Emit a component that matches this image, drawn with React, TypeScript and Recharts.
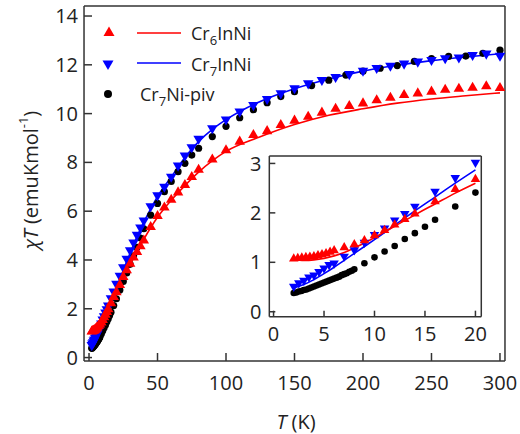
import React from 'react';
import { ComposedChart, Scatter, Line, XAxis, YAxis, Legend } from 'recharts';

const FONT = '"Open Sans", "DejaVu Sans", sans-serif';
const INK = '#333';
const RED = '#ff0000';
const BLUE = '#0000ff';
const THIN = 0.01; // axes need a non-zero box to render

// Cr6InNi, measured (up triangles)
const cr6T = [2, 2.4, 2.8, 3.2, 3.6, 4, 4.4, 4.8, 5.2, 5.6, 6, 7, 8, 9, 10, 11, 12, 13, 14, 16, 18, 20,
  22.5, 25, 27.5, 30, 32.5, 35, 37.5, 40, 45, 50, 55, 60, 65, 70, 75, 80, 90, 100, 110, 120, 130, 140,
  150, 160, 170, 180, 190, 200, 210, 220, 230, 240, 250, 260, 270, 280, 290, 300];
const cr6Chi = [1.07, 1.08, 1.09, 1.1, 1.11, 1.12, 1.14, 1.16, 1.18, 1.21, 1.24, 1.3, 1.36, 1.44, 1.54, 1.65, 1.76, 1.87, 1.98, 2.23, 2.48, 2.68,
  2.98, 3.3, 3.58, 3.85, 4.1, 4.33, 4.56, 4.8, 5.35, 5.8, 6.15, 6.47, 6.77, 7.07, 7.4, 7.7, 8.12, 8.5, 8.85, 9.12, 9.28, 9.53,
  9.71, 9.87, 10.04, 10.2, 10.31, 10.42, 10.55, 10.65, 10.76, 10.83, 10.9, 10.98, 11.02, 11.06, 11.12, 11.05];

// Cr7InNi, measured (down triangles)
const cr7T = [2, 2.5, 3, 3.5, 4, 4.5, 5, 5.5, 6, 7, 8, 9, 10, 11, 12, 13, 14, 16, 18, 20,
  22.5, 25, 27.5, 30, 32.5, 35, 37.5, 40, 45, 50, 55, 60, 65, 70, 75, 80, 90, 100, 110, 120, 130, 140,
  150, 160, 170, 180, 190, 200, 210, 220, 230, 240, 250, 260, 270, 280, 290, 300];
const cr7Chi = [0.51, 0.58, 0.63, 0.7, 0.74, 0.81, 0.88, 0.95, 0.98, 1.12, 1.25, 1.4, 1.56, 1.69, 1.85, 1.98, 2.13, 2.43, 2.71, 3.02,
  3.35, 3.7, 4.05, 4.4, 4.72, 5.03, 5.33, 5.62, 6.2, 6.65, 7.0, 7.41, 7.87, 8.28, 8.62, 8.97, 9.4, 9.76, 10.08, 10.35, 10.6, 10.83,
  11.04, 11.24, 11.38, 11.5, 11.62, 11.76, 11.87, 11.96, 12.05, 12.13, 12.2, 12.27, 12.3, 12.4, 12.46, 12.37];

// Cr7Ni-piv, measured (dots)
const pivT = [2, 2.25, 2.5, 2.75, 3, 3.25, 3.5, 3.75, 4, 4.25, 4.5, 4.75, 5, 5.25, 5.5, 5.75, 6, 6.25, 6.5, 6.75, 7, 7.25, 7.5, 7.75, 8,
  9, 10, 11, 12, 13, 14, 15, 16, 18, 20, 22.5, 25, 27.5, 30, 32.5, 35, 37.5, 40, 45, 50, 55, 60, 65, 70, 75, 80,
  90, 100, 110, 120, 130, 140, 150, 162.5, 175, 187.5, 200, 212.5, 225, 237.5, 250, 262.5, 275, 287.5, 300];
const pivChi = [0.38, 0.39, 0.41, 0.42, 0.44, 0.45, 0.47, 0.49, 0.51, 0.53, 0.55, 0.57, 0.59, 0.61, 0.63, 0.65, 0.67, 0.69, 0.71, 0.74, 0.76, 0.78, 0.81, 0.83, 0.86,
  0.98, 1.1, 1.22, 1.33, 1.47, 1.59, 1.72, 1.86, 2.13, 2.41, 2.77, 3.12, 3.47, 3.82, 4.17, 4.52, 4.9, 5.28, 5.84, 6.32, 6.8, 7.22, 7.62, 7.96, 8.3, 8.58,
  9.06, 9.48, 9.83, 10.16, 10.45, 10.7, 10.9, 11.15, 11.37, 11.58, 11.74, 11.86, 11.97, 12.14, 12.25, 12.35, 12.36, 12.47, 12.6];

// fitted curves
const fit6T = [2, 3, 4, 5, 6, 7, 8, 9, 10, 12, 14, 16, 18, 20, 25, 30, 40, 50, 60, 70, 80, 100, 125, 150, 175, 200, 225, 250, 275, 300];
const fit6Chi = [1.06, 1.04, 1.05, 1.08, 1.13, 1.2, 1.29, 1.39, 1.5, 1.73, 1.96, 2.18, 2.4, 2.6, 3.2, 3.8, 4.85, 5.75, 6.45, 7.05, 7.6, 8.45, 9.05, 9.55, 9.93, 10.2, 10.43, 10.6, 10.73, 10.85];
const fit7T = [2, 3, 4, 5, 6, 7, 8, 9, 10, 12, 14, 16, 18, 20, 25, 30, 35, 40, 50, 60, 70, 80, 90, 100, 125, 150, 175, 200, 225, 250, 275, 300];
const fit7Chi = [0.48, 0.55, 0.65, 0.77, 0.9, 1.04, 1.18, 1.32, 1.46, 1.75, 2.04, 2.32, 2.6, 2.87, 3.58, 4.28, 4.95, 5.55, 6.6, 7.4, 8.2, 8.85, 9.35, 9.75, 10.5, 11.02, 11.42, 11.74, 11.98, 12.17, 12.32, 12.45];

const mainXTicks = [0, 50, 100, 150, 200, 250, 300];
const mainYTicks = [0, 2, 4, 6, 8, 10, 12, 14];
const insetXTicks = [0, 5, 10, 15, 20];
const insetYTicks = [0, 1, 2, 3];

const range = (a: number, b: number, s: number) => {
  const out: number[] = [];
  for (let x = a; x <= b + 1e-9; x += s) out.push(Math.round(x * 100) / 100);
  return out;
};

const rows = (t: number[], v: number[], maxT = Infinity) =>
  t.map((T, i) => ({ T, v: v[i] })).filter((d) => d.T <= maxT);

const triangle = (color: string, side: number, down: boolean) => (p: any) => {
  const { cx, cy } = p;
  if (cx == null || cy == null) return <g />;
  const h = side * 0.866;
  const tip = down ? cy + (2 * h) / 3 : cy - (2 * h) / 3;
  const base = down ? cy - h / 3 : cy + h / 3;
  return <polygon points={`${cx - side / 2},${base} ${cx + side / 2},${base} ${cx},${tip}`} fill={color} />;
};
const dot = (r: number) => (p: any) => {
  if (p.cx == null || p.cy == null) return <g />;
  return <circle cx={p.cx} cy={p.cy} r={r} fill="#000" />;
};

const tickFont = { fontSize: 20, fill: '#222', fontFamily: FONT };

const XTitle = () => (
  <text x={296} y={429} textAnchor="middle" fontSize={20} fontFamily={FONT} fill="#222">
    <tspan fontStyle="italic">T</tspan> (K)
  </text>
);

const YTitle = () => (
  <text x={30} y={180} textAnchor="middle" dominantBaseline="central" transform="rotate(-90 30 180)"
    fontSize={20} fontFamily={FONT} fill="#222">
    <tspan fontStyle="italic">χT</tspan> (emuKmol<tspan dy={-7} fontSize={13}>-1</tspan><tspan dy={7}>)</tspan>
  </text>
);

const LegendBox = () => (
  <svg width={300} height={110} style={{ display: 'block' }}>
    <g fontFamily={FONT} fontSize={18} fill="#222">
      <polygon points="103.5,36 114.5,36 109,26.5" fill={RED} />
      <line x1={137} x2={181} y1={33} y2={33} stroke={RED} strokeWidth={1.5} />
      <text x={191} y={40}>Cr<tspan dy={5} fontSize={13}>6</tspan><tspan dy={-5}>InNi</tspan></text>
      <polygon points="102.5,60.5 113.5,60.5 108,70" fill={BLUE} />
      <line x1={137} x2={181} y1={63} y2={63} stroke={BLUE} strokeWidth={1.5} />
      <text x={191} y={71}>Cr<tspan dy={5} fontSize={13}>7</tspan><tspan dy={-5}>InNi</tspan></text>
      <circle cx={108} cy={94} r={4} fill="#000" />
      <text x={140} y={101}>Cr<tspan dy={5} fontSize={13}>7</tspan><tspan dy={-5}>Ni-piv</tspan></text>
    </g>
  </svg>
);

const MainChart = () => {
  const xd: [number, number] = [-3.65, 303.65];
  const yd: [number, number] = [-0.14, 14.41];
  return (
    <ComposedChart width={520} height={434} margin={{ top: 6, right: 15, bottom: 73, left: 84 }}>
      <XAxis xAxisId="b" type="number" dataKey="T" domain={xd} allowDataOverflow ticks={mainXTicks} interval={0}
        tickSize={-8} tickMargin={23} height={THIN} stroke={INK} strokeWidth={1.5} tick={tickFont} label={<XTitle />} />
      <XAxis xAxisId="bm" type="number" domain={xd} allowDataOverflow ticks={range(0, 300, 10)} interval={0}
        tickSize={-4} height={THIN} axisLine={false} tick={false} stroke={INK} strokeWidth={1.2} />
      <XAxis xAxisId="t" orientation="top" type="number" domain={xd} allowDataOverflow ticks={mainXTicks} interval={0}
        tickSize={-8} height={THIN} tick={false} stroke={INK} strokeWidth={1.5} />
      <XAxis xAxisId="tm" orientation="top" type="number" domain={xd} allowDataOverflow ticks={range(0, 300, 10)} interval={0}
        tickSize={-4} height={THIN} axisLine={false} tick={false} stroke={INK} strokeWidth={1.2} />
      <YAxis yAxisId="l" type="number" dataKey="v" domain={yd} allowDataOverflow ticks={mainYTicks} interval={0}
        tickSize={-8} tickMargin={14} width={THIN} stroke={INK} strokeWidth={1.5} tick={tickFont} label={<YTitle />} />
      <YAxis yAxisId="lm" type="number" domain={yd} allowDataOverflow ticks={range(0, 14, 0.5)} interval={0}
        tickSize={-4} width={THIN} axisLine={false} tick={false} stroke={INK} strokeWidth={1.2} />
      <YAxis yAxisId="r" orientation="right" type="number" domain={yd} allowDataOverflow ticks={mainYTicks} interval={0}
        tickSize={-8} width={THIN} tick={false} stroke={INK} strokeWidth={1.5} />
      <YAxis yAxisId="rm" orientation="right" type="number" domain={yd} allowDataOverflow ticks={range(0, 14, 0.5)} interval={0}
        tickSize={-4} width={THIN} axisLine={false} tick={false} stroke={INK} strokeWidth={1.2} />
      <Legend layout="vertical" align="center" verticalAlign="middle" content={() => <LegendBox />}
        wrapperStyle={{ left: 0, top: 0, width: 300, height: 110 }} />
      <Scatter xAxisId="b" yAxisId="l" data={rows(pivT, pivChi)} dataKey="v" shape={dot(3.6)} isAnimationActive={false} />
      <Scatter xAxisId="b" yAxisId="l" data={rows(cr7T, cr7Chi)} dataKey="v" shape={triangle(BLUE, 10.5, true)} isAnimationActive={false} />
      <Scatter xAxisId="b" yAxisId="l" data={rows(cr6T, cr6Chi)} dataKey="v" shape={triangle(RED, 10.5, false)} isAnimationActive={false} />
      <Line xAxisId="b" yAxisId="l" data={rows(fit7T, fit7Chi)} dataKey="v" type="monotone" stroke={BLUE} strokeWidth={1.6} dot={false} activeDot={false} isAnimationActive={false} />
      <Line xAxisId="b" yAxisId="l" data={rows(fit6T, fit6Chi)} dataKey="v" type="monotone" stroke={RED} strokeWidth={1.6} dot={false} activeDot={false} isAnimationActive={false} />
    </ComposedChart>
  );
};

const InsetChart = () => {
  const xd: [number, number] = [-0.42, 20.58];
  const yd: [number, number] = [-0.1, 3.15];
  return (
    <ComposedChart width={270} height={205} margin={{ top: 11, right: 13.7, bottom: 33.3, left: 44.3 }}>
      <XAxis xAxisId="b" type="number" dataKey="T" domain={xd} allowDataOverflow ticks={insetXTicks} interval={0}
        tickSize={-6} tickMargin={16} height={THIN} stroke={INK} strokeWidth={1.5} tick={tickFont} />
      <XAxis xAxisId="bm" type="number" domain={xd} allowDataOverflow ticks={range(0, 20, 2.5)} interval={0}
        tickSize={-4} height={THIN} axisLine={false} tick={false} stroke={INK} strokeWidth={1.2} />
      <XAxis xAxisId="t" orientation="top" type="number" domain={xd} allowDataOverflow ticks={insetXTicks} interval={0}
        tickSize={-6} height={THIN} tick={false} stroke={INK} strokeWidth={1.5} />
      <XAxis xAxisId="tm" orientation="top" type="number" domain={xd} allowDataOverflow ticks={range(0, 20, 2.5)} interval={0}
        tickSize={-4} height={THIN} axisLine={false} tick={false} stroke={INK} strokeWidth={1.2} />
      <YAxis yAxisId="l" type="number" dataKey="v" domain={yd} allowDataOverflow ticks={insetYTicks} interval={0}
        tickSize={-6} tickMargin={14} width={THIN} stroke={INK} strokeWidth={1.5} tick={tickFont} />
      <YAxis yAxisId="lm" type="number" domain={yd} allowDataOverflow ticks={range(0, 3, 0.5)} interval={0}
        tickSize={-4} width={THIN} axisLine={false} tick={false} stroke={INK} strokeWidth={1.2} />
      <YAxis yAxisId="r" orientation="right" type="number" domain={yd} allowDataOverflow ticks={insetYTicks} interval={0}
        tickLine={false} width={THIN} tick={false} stroke={INK} strokeWidth={1.5} />
      <Scatter xAxisId="b" yAxisId="l" data={rows(pivT, pivChi, 20.5)} dataKey="v" shape={dot(3.3)} isAnimationActive={false} />
      <Scatter xAxisId="b" yAxisId="l" data={rows(cr7T, cr7Chi, 20.5)} dataKey="v" shape={triangle(BLUE, 9.5, true)} isAnimationActive={false} />
      <Scatter xAxisId="b" yAxisId="l" data={rows(cr6T, cr6Chi, 20.5)} dataKey="v" shape={triangle(RED, 9.5, false)} isAnimationActive={false} />
      <Line xAxisId="b" yAxisId="l" data={rows(fit7T, fit7Chi, 20.5)} dataKey="v" type="monotone" stroke={BLUE} strokeWidth={1.6} dot={false} activeDot={false} isAnimationActive={false} />
      <Line xAxisId="b" yAxisId="l" data={rows(fit6T, fit6Chi, 20.5)} dataKey="v" type="monotone" stroke={RED} strokeWidth={1.6} dot={false} activeDot={false} isAnimationActive={false} />
    </ComposedChart>
  );
};

export default function App() {
  return (
    <div style={{ position: 'absolute', left: 0, top: 0, width: 520, height: 434, background: '#fff' }}>
      <MainChart />
      <div style={{ position: 'absolute', left: 225, top: 145 }}>
        <InsetChart />
      </div>
    </div>
  );
}
